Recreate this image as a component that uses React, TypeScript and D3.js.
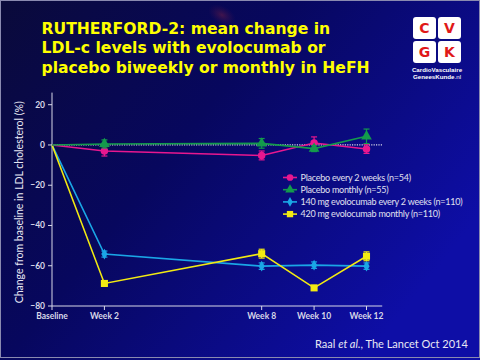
import React from "react";
import * as d3 from "d3";

const weeks = [0, 2, 8, 10, 12];
const weekLabels = ["Baseline", "Week 2", "Week 8", "Week 10", "Week 12"];
const yTicks = [20, 0, -20, -40, -60, -80];

const placeboQ2W = [0, -3, -5.2, 1.0, -2.0];
const placeboQ2WErr = [0, 2.5, 2.2, 3.0, 2.2];
const placeboQM = [0, 0.5, 0.8, -1.8, 4.3];
const placeboQMErr = [0, 2.0, 2.4, 1.5, 3.6];
const evo140 = [0, -54.2, -60.2, -59.7, -60.2];
const evo140Err = [0, 1.5, 1.6, 1.6, 1.6];
const evo420 = [0, -68.8, -54.0, -71.0, -55.3];
const evo420Err = [0, 1.2, 2.2, 1.2, 2.2];

const seriesNames = [
  "Placebo every 2 weeks (n=54)",
  "Placebo monthly (n=55)",
  "140 mg evolocumab every 2 weeks (n=110)",
  "420 mg evolocumab monthly (n=110)",
];
const seriesColors = ["#e8178f", "#139a4c", "#1aa6e6", "#f2ea12"];
const seriesShapes = ["circle", "triangle", "diamond", "square"];

const titleLines = [
  "RUTHERFORD-2: mean change in",
  "LDL-c levels with evolocumab or",
  "placebo biweekly or monthly in HeFH",
];

export default function App() {
  const W = 480, H = 360;
  const x = d3.scaleLinear().domain([0, 12]).range([52, 366.5]);
  const y = d3.scaleLinear().domain([20, -80]).range([104.7, 306]);
  const xEnd = x(12.6);
  const yTop = y(26);

  const data = [
    { v: placeboQ2W, e: placeboQ2WErr },
    { v: placeboQM, e: placeboQMErr },
    { v: evo140, e: evo140Err },
    { v: evo420, e: evo420Err },
  ];

  const line = d3
    .line<number>()
    .x((_, i) => x(weeks[i]))
    .y((d) => y(d));

  const symbolFor = (s: string) =>
    s === "circle" ? d3.symbolCircle : s === "triangle" ? d3.symbolTriangle : s === "diamond" ? d3.symbolDiamond : d3.symbolSquare;
  const sizeFor = (s: string) => (s === "circle" ? 44 : s === "triangle" ? 50 : s === "diamond" ? 34 : 50);

  const order = [2, 3, 0, 1];

  return (
    <svg width={W} height={H} style={{ display: "block", position: "absolute", left: 0, top: 0 }}>
      <defs>
        <linearGradient id="bg" x1="0" y1="0" x2="1" y2="0.6">
          <stop offset="0" stopColor="#0a0a3a" />
          <stop offset="0.45" stopColor="#07075e" />
          <stop offset="1" stopColor="#0e0ea6" />
        </linearGradient>
        <radialGradient id="cell" cx="0.5" cy="0.5" r="0.5">
          <stop offset="0" stopColor="#5a1a48" stopOpacity="0.7" />
          <stop offset="1" stopColor="#3a1050" stopOpacity="0" />
        </radialGradient>
      </defs>
      <rect x={0} y={0} width={W} height={H} fill="url(#bg)" />
      <ellipse cx={222} cy={15} rx={15} ry={9} fill="url(#cell)" transform="rotate(30 222 15)" />
      <rect x={0.5} y={0.5} width={W - 1} height={357} fill="none" stroke="#8a8ab0" strokeWidth={1} />

      {/* title */}
      <g fontFamily="'DejaVu Sans', Verdana, sans-serif" fontWeight="bold" fontSize={15.6} fill="#ffff00">
        {titleLines.map((t, i) => (
          <text key={i} x={41.5} y={33.5 + i * 19.5}>{t}</text>
        ))}
      </g>

      {/* logo */}
      <g>
        {[
          ["C", 413, 17],
          ["V", 438, 17],
          ["G", 413, 41],
          ["K", 438, 41],
        ].map(([l, lx, ly]) => (
          <g key={l as string}>
            <rect x={lx as number} y={ly as number} width={23} height={22} rx={3} fill="#ffffff" />
            <text x={(lx as number) + 11.5} y={(ly as number) + 16} textAnchor="middle" fontFamily="'DejaVu Sans', sans-serif" fontWeight="bold" fontSize={14} fill="#e01818">{l}</text>
          </g>
        ))}
        <text x={437} y={72} textAnchor="middle" fontFamily="'Liberation Sans', Arial, sans-serif" fontWeight="bold" fontSize={6.2} fill="#ffffff">CardioVasculaire</text>
        <text x={437} y={79} textAnchor="middle" fontFamily="'Liberation Sans', Arial, sans-serif" fontWeight="bold" fontSize={6.2} fill="#ffffff">GeneesKunde<tspan fontWeight="normal">.nl</tspan></text>
      </g>

      {/* axes */}
      <g stroke="#d8d8e8" strokeWidth={1}>
        <line x1={x(0)} x2={x(0)} y1={yTop} y2={y(-80)} />
        <line x1={x(0)} x2={xEnd} y1={y(-80)} y2={y(-80)} />
        {yTicks.map((t) => (
          <line key={t} x1={x(0) - 4} x2={x(0)} y1={y(t)} y2={y(t)} />
        ))}
        {weeks.map((w) => (
          <line key={w} x1={x(w)} x2={x(w)} y1={y(-80)} y2={y(-80) + 4} />
        ))}
      </g>
      <g fontFamily="Lato, 'Open Sans', sans-serif" fontWeight="bold" fontSize={8.5} fill="#d8d8e8">
        {yTicks.map((t) => (
          <text key={t} x={x(0) - 7} y={y(t) + 3} textAnchor="end">{t < 0 ? "\u2212" + Math.abs(t) : t}</text>
        ))}
        {weeks.map((w, i) => (
          <text key={w} x={x(w)} y={y(-80) + 13} textAnchor="middle">{weekLabels[i]}</text>
        ))}
      </g>
      <text
        transform={`translate(23,${(y(-80) + yTop) / 2 + 3}) rotate(-90)`}
        textAnchor="middle"
        fontFamily="Lato, 'Open Sans', sans-serif"
        fontSize={10.5}
        fill="#e8e8f4"
      >
        Change from baseline in LDL cholesterol (%)
      </text>

      {/* zero dotted line */}
      <line x1={x(0)} x2={xEnd} y1={y(0)} y2={y(0)} stroke="#d8d8e8" strokeWidth={1.2} strokeDasharray="1.2 1.2" />

      {/* series */}
      {order.map((si) => {
        const d = data[si];
        const c = seriesColors[si];
        return (
          <g key={si}>
            <path d={line(d.v) || ""} fill="none" stroke={c} strokeWidth={1.6} />
            {d.v.map((v, i) =>
              i === 0 ? null : (
                <g key={i} stroke={c} strokeWidth={1.2}>
                  <line x1={x(weeks[i])} x2={x(weeks[i])} y1={y(v + d.e[i])} y2={y(v - d.e[i])} />
                  <line x1={x(weeks[i]) - 3} x2={x(weeks[i]) + 3} y1={y(v + d.e[i])} y2={y(v + d.e[i])} />
                  <line x1={x(weeks[i]) - 3} x2={x(weeks[i]) + 3} y1={y(v - d.e[i])} y2={y(v - d.e[i])} />
                </g>
              )
            )}
            {d.v.map((v, i) =>
              i === 0 ? null : (
                <path
                  key={"m" + i}
                  transform={`translate(${x(weeks[i])},${y(v)})`}
                  d={d3.symbol().type(symbolFor(seriesShapes[si])).size(sizeFor(seriesShapes[si]))() || ""}
                  fill={c}
                />
              )
            )}
          </g>
        );
      })}

      {/* legend */}
      <g fontFamily="Lato, 'Open Sans', sans-serif" fontSize={9} letterSpacing={-0.25} fill="#e0e0f0">
        {seriesNames.map((n, i) => {
          const ly = 177.5 + i * 12.2;
          return (
            <g key={n}>
              <line x1={283} x2={297} y1={ly} y2={ly} stroke={seriesColors[i]} strokeWidth={1.6} />
              <path
                transform={`translate(290,${ly})`}
                d={d3.symbol().type(symbolFor(seriesShapes[i])).size(sizeFor(seriesShapes[i]) * 0.8)() || ""}
                fill={seriesColors[i]}
              />
              <text x={300.5} y={ly + 3.3}>{n}</text>
            </g>
          );
        })}
      </g>

      {/* citation */}
      <text x={315} y={347.5} fontFamily="Lato, 'Open Sans', sans-serif" fontSize={11} fill="#e8e8f4">
        Raal <tspan fontStyle="italic">et al.</tspan>, The Lancet Oct 2014
      </text>
    </svg>
  );
}
